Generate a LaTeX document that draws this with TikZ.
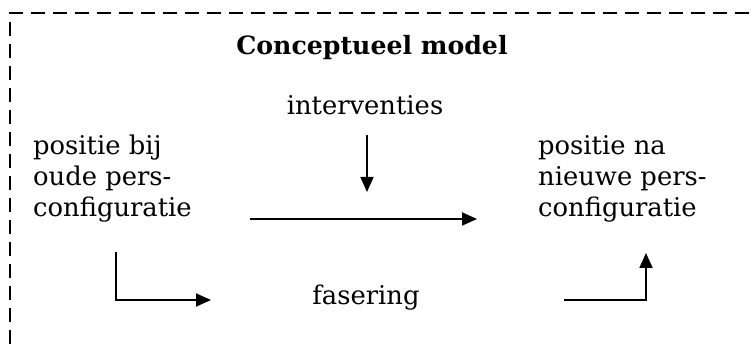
\documentclass[tikz,border=0pt]{standalone}
\usepackage{fontspec}
\setmainfont{DejaVu Serif}
\usetikzlibrary{arrows.meta}
\begin{document}
\begin{tikzpicture}[x=1pt,y=-1pt,
  txt/.style={inner sep=0pt,font=\fontsize{25.8}{31}\selectfont},
  flow/.style={line width=1.8pt,-{Triangle[length=15pt,width=13pt]}},
  frame/.style={line width=1.8pt,dash pattern=on 14pt off 8pt}]
\useasboundingbox (0,0) rectangle (756,344);
% dashed frame (open at right and bottom)
\draw[frame] (10,344) -- (10,13) -- (756,13);
% texts
\node[txt,anchor=base,font=\fontsize{25.2}{31}\selectfont\bfseries] (title) at (372,55) {Conceptueel model};
\node[txt,anchor=base] (interv) at (365,115) {interventies};
\node[txt,anchor=base] (fas) at (366,305) {fasering};
% multi-line nodes: base anchor sits on the last line
\node[txt,anchor=base west,align=left] (oud) at (33,217) {positie bij\\oude pers-\\configuratie};
\node[txt,anchor=base west,align=left] (nieuw) at (538,217) {positie na\\nieuwe pers-\\configuratie};
% arrow end points
\coordinate (a1) at (367,135);
\coordinate (a2) at (367,192);
\coordinate (b1) at (250,219);
\coordinate (b2) at (477,219);
\coordinate (c1) at (116,252);
\coordinate (c2) at (116,300);
\coordinate (c3) at (211,300);
\coordinate (d1) at (564,300);
\coordinate (d2) at (646,300);
\coordinate (d3) at (646,253);
\draw[flow] (a1) -- (a2);
\draw[flow] (b1) -- (b2);
\draw[flow] (c1) -- (c2) -- (c3);
\draw[flow] (d1) -- (d2) -- (d3);
\end{tikzpicture}
\end{document}
